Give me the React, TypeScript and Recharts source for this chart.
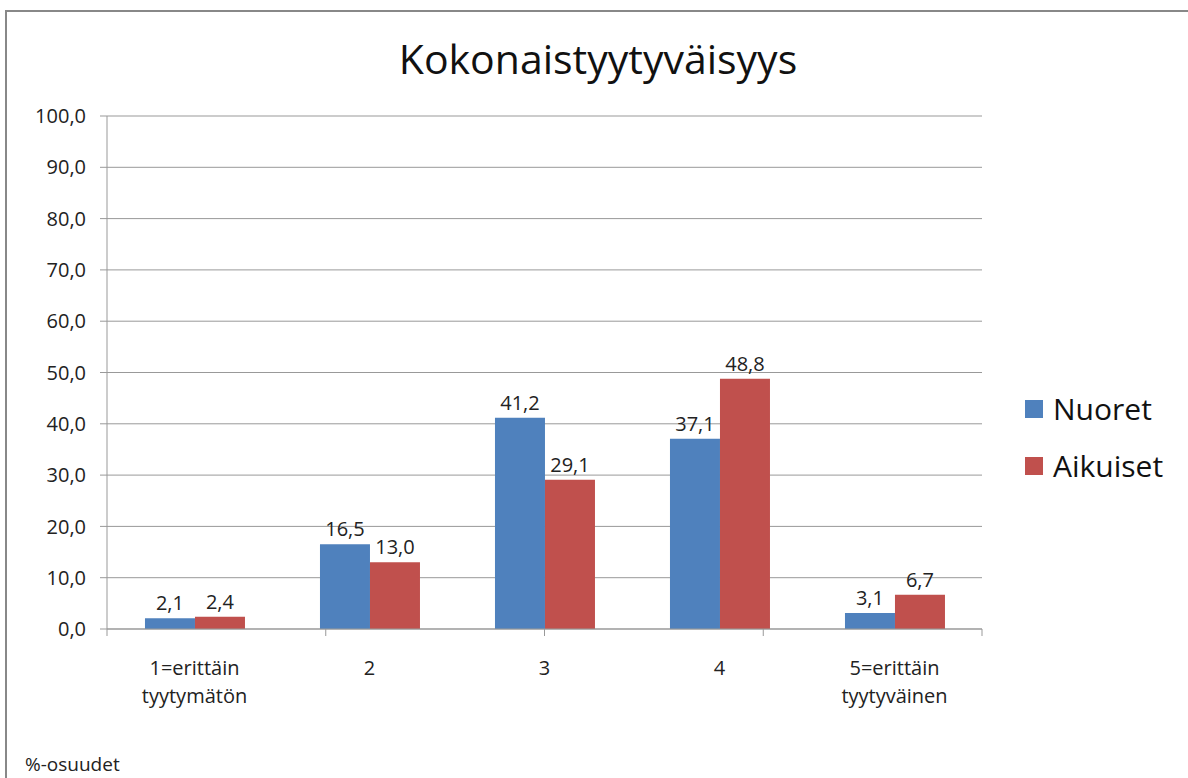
import { BarChart, Bar, XAxis, YAxis, CartesianGrid, LabelList } from "recharts";

const categories = ["1=erittäin tyytymätön", "2", "3", "4", "5=erittäin tyytyväinen"];
const nuoret = [2.1, 16.5, 41.2, 37.1, 3.1];
const aikuiset = [2.4, 13.0, 29.1, 48.8, 6.7];
const yTicks = [0, 10, 20, 30, 40, 50, 60, 70, 80, 90, 100];
const boundaryTicks = [0, 1, 2, 3, 4, 5];

const BLUE = "#4F81BD";
const RED = "#C0504D";
const GRID = "#999";
const FONT = "'Open Sans', sans-serif";

const data = categories.map((c, i) => ({ name: c, Nuoret: nuoret[i], Aikuiset: aikuiset[i] }));
const fmt = (v: any) => Number(v).toFixed(1).replace(".", ",");

function CategoryTick({ x, y, payload }: any) {
  const words = String(payload.value).split(" ");
  return (
    <text x={x} y={y} textAnchor="middle" fontSize={20} fill="#222" fontFamily={FONT}>
      {words.map((w, i) => (
        <tspan key={i} x={x} dy={i === 0 ? 30 : 28}>{w}</tspan>
      ))}
    </text>
  );
}

function LegendBox() {
  const items = [{ label: "Nuoret", color: BLUE }, { label: "Aikuiset", color: RED }];
  return (
    <div style={{ position: "absolute", left: 1025, top: 380, fontFamily: FONT }}>
      {items.map((it) => (
        <div key={it.label} style={{ display: "flex", alignItems: "center", height: 57 }}>
          <span style={{ width: 18, height: 18, background: it.color, display: "inline-block", marginRight: 10 }} />
          <span style={{ fontSize: 30, color: "#111" }}>{it.label}</span>
        </div>
      ))}
    </div>
  );
}

export default function App() {
  return (
    <div style={{ position: "absolute", left: 0, top: 0, width: 1188, height: 778, background: "#fff", overflow: "hidden" }}>
      <div style={{ position: "absolute", left: 5, top: 10, width: 1200, height: 800, borderLeft: "2px solid #888", borderTop: "2px solid #888" }} />
      <div style={{ position: "absolute", left: 0, width: 1196, top: 30, textAlign: "center", fontFamily: FONT, fontSize: 41, color: "#111" }}>
        Kokonaistyytyväisyys
      </div>
      <div style={{ position: "absolute", left: 25, top: 751, fontFamily: FONT, fontSize: 19, color: "#222" }}>%-osuudet</div>
      <div style={{ position: "absolute", left: 0, top: 0 }}>
        <BarChart width={1188} height={778} data={data} margin={{ top: 116, right: 206, bottom: 81, left: 7 }}
          barCategoryGap="21.7%" barGap={0}>
          <CartesianGrid xAxisId="b" vertical={false} stroke={GRID} />
          {/* category boundary tick marks */}
          <XAxis xAxisId="a" type="number" domain={[0, 5]} ticks={boundaryTicks} height={8}
            stroke={GRID} tickSize={7} tickFormatter={() => ""} interval={0} allowDataOverflow />
          <XAxis xAxisId="b" dataKey="name" height={60} axisLine={false} tickLine={false}
            interval={0} tick={<CategoryTick />} />
          <YAxis width={100} domain={[0, 100]} ticks={yTicks} stroke={GRID} tickSize={7} tickMargin={14}
            tickFormatter={fmt} tick={{ fontSize: 20, fill: "#222", fontFamily: FONT }} />
          <Bar xAxisId="b" dataKey="Nuoret" fill={BLUE} isAnimationActive={false}>
            <LabelList dataKey="Nuoret" position="top" offset={8} formatter={fmt}
              style={{ fontSize: 20, fill: "#222", fontFamily: FONT }} />
          </Bar>
          <Bar xAxisId="b" dataKey="Aikuiset" fill={RED} isAnimationActive={false}>
            <LabelList dataKey="Aikuiset" position="top" offset={8} formatter={fmt}
              style={{ fontSize: 20, fill: "#222", fontFamily: FONT }} />
          </Bar>
        </BarChart>
      </div>
      <LegendBox />
    </div>
  );
}
